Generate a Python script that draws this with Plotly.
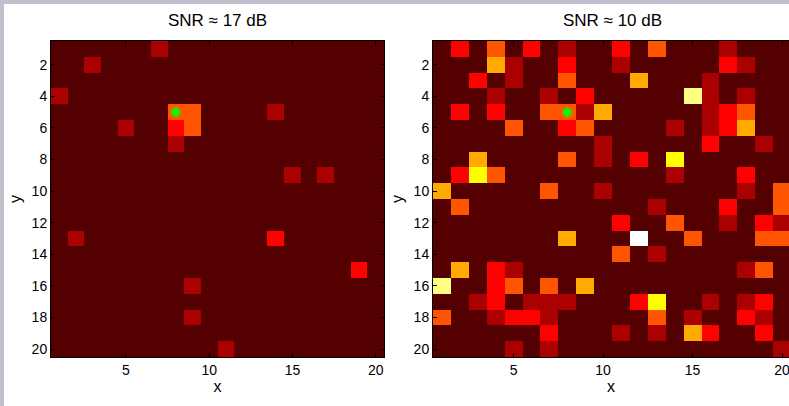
import plotly.graph_objects as go

# ---------------- data ----------------
x_cells = list(range(1, 21))
y_cells = list(range(1, 21))
x_ticks = [5, 10, 15, 20]
y_ticks = [2, 4, 6, 8, 10, 12, 14, 16, 18, 20]
titles = ["SNR \u2248 17 dB", "SNR \u2248 10 dB"]
source_xy = (8, 5)

# level per cell, rows = y 1..20, columns = x 1..20
snr17 = [
    [0,0,0,0,0,0,1,0,0,0,0,0,0,0,0,0,0,0,0,0],
    [0,0,1,0,0,0,0,0,0,0,0,0,0,0,0,0,0,0,0,0],
    [0,0,0,0,0,0,0,0,0,0,0,0,0,0,0,0,0,0,0,0],
    [1,0,0,0,0,0,0,0,0,0,0,0,0,0,0,0,0,0,0,0],
    [0,0,0,0,0,0,0,3,3,0,0,0,0,1,0,0,0,0,0,0],
    [0,0,0,0,1,0,0,2,3,0,0,0,0,0,0,0,0,0,0,0],
    [0,0,0,0,0,0,0,1,0,0,0,0,0,0,0,0,0,0,0,0],
    [0,0,0,0,0,0,0,0,0,0,0,0,0,0,0,0,0,0,0,0],
    [0,0,0,0,0,0,0,0,0,0,0,0,0,0,1,0,1,0,0,0],
    [0,0,0,0,0,0,0,0,0,0,0,0,0,0,0,0,0,0,0,0],
    [0,0,0,0,0,0,0,0,0,0,0,0,0,0,0,0,0,0,0,0],
    [0,0,0,0,0,0,0,0,0,0,0,0,0,0,0,0,0,0,0,0],
    [0,1,0,0,0,0,0,0,0,0,0,0,0,2,0,0,0,0,0,0],
    [0,0,0,0,0,0,0,0,0,0,0,0,0,0,0,0,0,0,0,0],
    [0,0,0,0,0,0,0,0,0,0,0,0,0,0,0,0,0,0,2,0],
    [0,0,0,0,0,0,0,0,1,0,0,0,0,0,0,0,0,0,0,0],
    [0,0,0,0,0,0,0,0,0,0,0,0,0,0,0,0,0,0,0,0],
    [0,0,0,0,0,0,0,0,1,0,0,0,0,0,0,0,0,0,0,0],
    [0,0,0,0,0,0,0,0,0,0,0,0,0,0,0,0,0,0,0,0],
    [0,0,0,0,0,0,0,0,0,0,1,0,0,0,0,0,0,0,0,0],
]

snr10 = [
    [0,2,0,3,0,2,0,1,0,0,2,0,3,0,0,0,1,0,0,0],
    [0,0,0,4,1,0,0,2,0,0,1,0,0,0,0,0,2,1,0,0],
    [0,0,2,0,1,0,0,3,0,0,0,4,0,0,0,1,0,0,0,0],
    [0,0,0,1,0,0,1,0,2,0,0,0,0,0,6,1,0,1,0,0],
    [0,2,0,2,0,0,3,3,1,4,0,0,0,0,0,1,2,3,0,0],
    [0,0,0,0,3,0,0,2,3,0,0,0,0,1,0,1,2,4,0,0],
    [0,0,0,0,0,0,0,0,0,1,0,0,0,0,0,2,0,0,1,0],
    [0,0,4,0,0,0,0,3,0,1,0,2,0,5,0,0,0,0,0,0],
    [0,2,5,3,0,0,0,0,0,0,0,0,0,1,0,0,0,2,0,0],
    [4,0,0,0,0,0,3,0,0,1,0,0,0,0,0,0,0,1,0,3],
    [0,3,0,0,0,0,0,0,0,0,0,0,1,0,0,0,2,0,0,3],
    [0,0,0,0,0,0,0,0,0,0,2,0,0,3,0,0,1,0,2,1],
    [0,0,0,0,0,0,0,4,0,0,0,7,0,0,3,0,0,0,3,3],
    [0,0,0,0,0,0,0,0,0,0,3,0,1,0,0,0,0,0,0,0],
    [0,4,0,2,1,0,0,0,0,0,0,0,0,0,0,0,0,1,3,0],
    [6,0,0,2,3,0,3,0,4,0,0,0,0,0,0,0,0,0,0,0],
    [0,0,1,2,0,1,1,1,0,0,0,2,5,0,0,1,0,1,2,0],
    [3,0,0,1,2,2,1,0,0,0,0,0,3,0,1,0,0,2,1,0],
    [0,0,0,0,0,0,2,0,0,0,1,0,1,0,4,2,0,0,2,0],
    [0,0,0,0,1,0,1,0,0,0,0,0,0,0,0,0,0,0,0,1],
]

level_colors = ["#550000", "#aa0000", "#ff0000", "#ff5500",
                "#ffaa00", "#ffff00", "#ffff80", "#ffffff"]

# ---------------- figure ----------------
W, H = 789, 406
n = len(level_colors)
colorscale = []
for i, c in enumerate(level_colors):
    colorscale.append([i / n, c])
    colorscale.append([(i + 1) / n, c])

def px_x(p):
    return p / W

def px_y(p):
    return 1 - p / H

fig = go.Figure()

panels = [(snr17, "x", "y"), (snr10, "x2", "y2")]
for z, xa, ya in panels:
    fig.add_trace(go.Heatmap(
        z=z, x=x_cells, y=y_cells, colorscale=colorscale,
        zmin=-0.5, zmax=n - 0.5, showscale=False, xaxis=xa, yaxis=ya,
        hoverinfo="skip"))
    fig.add_trace(go.Scatter(
        x=[source_xy[0]], y=[source_xy[1]], mode="markers", xaxis=xa, yaxis=ya,
        marker=dict(symbol="asterisk-open", size=8, color="#00ff00",
                    line=dict(color="#00ff00", width=2.2)),
        showlegend=False, hoverinfo="skip"))

font = dict(family="Liberation Sans, Arial, sans-serif", color="black")
tickfont = dict(font, size=14)

# panel pixel boxes
left_box = (51, 384)
right_box = (433, 791)
top_px, bot_px = 41, 357

right_span = (min(right_box[1], W) - right_box[0]) / (right_box[1] - right_box[0])

common_x = dict(tickvals=x_ticks, ticks="inside", ticklen=4, tickcolor="black",
                showline=True, linecolor="black", linewidth=1, showgrid=False,
                zeroline=False, tickfont=tickfont, ticklabeloverflow="allow",
                title=dict(text="x", font=dict(font, size=16), standoff=2))
common_y = dict(tickvals=y_ticks, ticks="inside", ticklen=4, tickcolor="black",
                showline=True, linecolor="black", linewidth=1, showgrid=False,
                zeroline=False, tickfont=tickfont, autorange=False,
                range=[20.5, 0.5],
                title=dict(text="y", font=dict(font, size=16), standoff=6))

fig.update_layout(
    width=W, height=H,
    margin=dict(l=0, r=0, t=0, b=0),
    paper_bgcolor="#c0c0cc",
    plot_bgcolor="white",
    showlegend=False,
    xaxis=dict(common_x, domain=[px_x(left_box[0]), px_x(left_box[1])],
               range=[0.5, 20.5], mirror="ticks", anchor="y"),
    yaxis=dict(common_y, domain=[px_y(bot_px), px_y(top_px)], mirror="ticks",
               anchor="x"),
    xaxis2=dict(common_x, domain=[px_x(right_box[0]), 1.0],
                range=[0.5, 0.5 + 20 * right_span], mirror="ticks", anchor="y2"),
    yaxis2=dict(common_y, domain=[px_y(bot_px), px_y(top_px)], mirror=False,
                anchor="x2"),
    shapes=[dict(type="rect", xref="paper", yref="paper", layer="below",
                 x0=px_x(4), x1=1.0, y0=0, y1=px_y(4),
                 fillcolor="white", line=dict(width=0))],
    annotations=[
        dict(text=titles[0], xref="paper", yref="paper",
             x=px_x(sum(left_box) / 2), y=px_y(21), showarrow=False,
             font=dict(font, size=17), xanchor="center", yanchor="middle"),
        dict(text=titles[1], xref="paper", yref="paper",
             x=px_x(sum(right_box) / 2), y=px_y(21), showarrow=False,
             font=dict(font, size=17), xanchor="center", yanchor="middle"),
    ],
)

fig.write_html("out.html",
               config={"displayModeBar": False, "responsive": False},
               post_script="document.body.style.margin='0';"
                           "document.body.style.overflow='hidden';")
